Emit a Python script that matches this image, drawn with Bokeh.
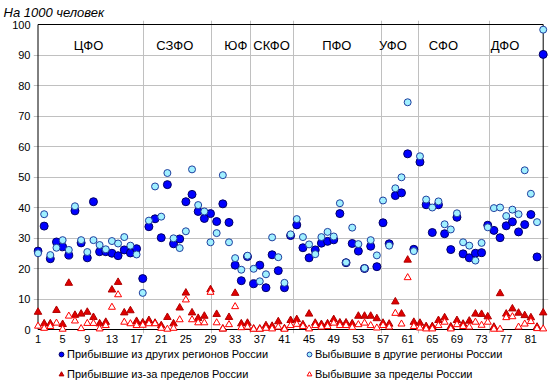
from bokeh.plotting import figure
from bokeh.layouts import column
from bokeh.models import Range1d, FixedTicker, Legend, LegendItem
from bokeh.core.properties import value
from bokeh.embed import file_html
from bokeh.resources import INLINE

# ---------------- data ----------------
regions = list(range(1, 84))

arr_other = [25.7, 33.9, 23.2, 28.7, 27.1, 24.4, 38.9, 28.4, 23.5, 41.9,
             25.5, 25.5, 25.0, 24.2, 26.1, 25.1, 26.5, 16.7, 33.7, 36.3,
             30.1, 47.5, 28.1, 29.7, 41.9, 44.3, 38.7, 36.4, 38.0, 35.4,
             41.2, 35.1, 21.1, 16.0, 23.9, 15.0, 21.1, 13.7, 24.5, 19.3,
             13.7, 30.8, 34.3, 26.8, 23.5, 26.1, 28.3, 28.9, 29.4, 38.0,
             21.9, 28.2, 25.7, 20.0, 27.3, 20.6, 35.0, 28.1, 43.9, 44.8,
             57.6, 26.3, 54.9, 40.9, 31.8, 40.9, 31.4, 26.2, 36.8, 24.8,
             23.5, 25.0, 25.2, 34.2, 32.5, 30.1, 34.0, 35.3, 32.0, 34.4,
             37.7, 23.8, 90.2]

dep_other = [25.0, 37.8, 24.4, 26.8, 29.3, 26.1, 40.4, 29.3, 25.4, 29.3,
             27.7, 26.3, 29.0, 28.2, 30.3, 27.5, 24.6, 12.0, 35.7, 46.9,
             37.0, 51.3, 29.9, 26.7, 32.2, 52.5, 40.8, 38.7, 28.6, 31.6,
             50.6, 28.6, 23.4, 19.6, 24.2, 19.9, 15.8, 18.1, 30.2, 23.7,
             15.3, 31.2, 36.2, 30.3, 27.9, 24.7, 30.3, 32.0, 30.5, 41.4,
             22.0, 33.4, 28.0, 20.1, 29.3, 24.3, 42.3, 27.5, 46.3, 49.9,
             74.5, 25.7, 56.8, 42.6, 40.0, 42.0, 34.5, 32.8, 38.1, 28.6,
             27.5, 22.6, 28.4, 33.5, 39.8, 40.0, 37.2, 39.3, 37.8, 52.2,
             44.5, 35.2, 98.3]

arr_abroad = [5.7, 1.9, 1.9, 6.3, 1.7, 15.2, 4.7, 5.1, 5.7, 4.0,
              1.9, 2.4, 13.0, 15.5, 5.5, 6.2, 2.7, 2.2, 3.0, 2.1,
              1.3, 4.0, 1.9, 7.1, 12.0, 5.5, 3.7, 4.4, 13.1, 5.0,
              0.2, 4.0, 11.9, 1.9, 2.1, 0.2, 0.2, 1.3, 1.1, 2.6,
              0.3, 3.0, 3.3, 1.6, 5.1, 2.1, 1.7, 1.9, 3.3, 2.2,
              2.2, 1.9, 4.4, 4.4, 4.4, 3.6, 2.1, 1.8, 9.1, 5.1,
              22.8, 2.4, 2.1, 1.0, 1.0, 3.0, 3.9, 0.9, 3.0, 1.8,
              2.8, 5.1, 5.0, 4.2, 0.8, 11.8, 5.1, 6.8, 5.4, 4.6,
              3.9, 0.8, 5.5]

dep_abroad = [1.1, 0.4, 1.0, 2.1, 0.1, 4.4, 2.8, 0.3, 2.0, 2.0,
              0.2, 1.3, 7.3, 11.4, 2.4, 1.9, 1.3, 1.4, 1.9, 1.9,
              0.4, 0.1, 0.4, 3.2, 9.7, 3.2, 2.2, 2.2, 12.2, 2.2,
              0.2, 1.6, 7.5, 0.6, 0.8, 0.1, 0.1, 0.4, 0.2, 0.8,
              0.1, 1.3, 1.7, 1.0, 0.2, 1.3, 0.8, 1.0, 2.1, 1.3,
              1.3, 0.7, 1.6, 2.1, 1.3, 0.5, 1.3, 0.8, 5.3, 1.8,
              17.0, 1.0, 0.5, 0.2, 0.2, 1.3, 2.4, 0.2, 1.6, 1.0,
              0.8, 2.4, 1.4, 2.4, 0.1, 0.1, 3.9, 4.2, 0.8, 1.8,
              2.6, 0.3, 0.2]

districts = ["ЦФО", "СЗФО", "ЮФ", "СКФО", "ПФО", "УФО", "СФО", "ДФО"]
district_label_x = [9.2, 23.2, 33.1, 38.9, 49.5, 58.6, 66.8, 76.8]
district_label_y = 93
district_bounds = [18.2, 29.2, 35.5, 42.5, 56.8, 62.7, 74.3]

x_ticks = list(range(1, 84, 4))
y_ticks = list(range(0, 101, 10))

series_names = ["Прибывшие из других регионов России",
                "Выбывшие в другие регионы России",
                "Прибывшие из-за пределов России",
                "Выбывшие за пределы России"]
title_text = "На 1000 человек"

series_values = [arr_other, dep_other, arr_abroad, dep_abroad]

# ---------------- styles ----------------
FONT = "Liberation Sans"
styles = [
    dict(marker="circle", size=8, fill_color="#0000ff", line_color="#000066", line_width=1),
    dict(marker="circle", size=7, fill_color="#a0f0ff", line_color="#1f3f9f", line_width=1),
    dict(marker="triangle", size=7.5, fill_color="#e00000", line_color="#b00000", line_width=1),
    dict(marker="triangle", size=7, fill_color="white", line_color="#ff0000", line_width=1),
]

# ---------------- main plot layout ----------------
W, H_MAIN, H_LEG = 560, 347, 40
FL, FR, FT, FB = 33, 548, 20, 333          # frame edges (px)
X1_PX, X83_PX = 37.5, 542.7                # where first / last region sit
Y100_PX, Y0_PX = 24.0, 329.0
sx = (X83_PX - X1_PX) / (regions[-1] - regions[0])
sy = (Y0_PX - Y100_PX) / (y_ticks[-1] - y_ticks[0])
x_start = regions[0] - (X1_PX - FL) / sx
x_end = regions[-1] + (FR - X83_PX) / sx
y_start = y_ticks[0] - (FB - Y0_PX) / sy
y_end = y_ticks[-1] + (Y100_PX - FT) / sy

p = figure(width=W, height=H_MAIN, output_backend="svg", toolbar_location=None,
           x_range=Range1d(x_start, x_end), y_range=Range1d(y_start, y_end),
           min_border_left=FL, min_border_right=W - FR,
           min_border_top=FT, min_border_bottom=H_MAIN - FB)
p.outline_line_color = None
p.background_fill_color = "white"
p.border_fill_color = "white"

# title
p.title.text = title_text
p.title.align = "left"
p.title.offset = -30
p.title.standoff = 2
p.title.text_font = FONT
p.title.text_font_size = "13px"
p.title.text_font_style = "italic"
p.title.text_color = "black"

# axes (their lines are drawn as the plot box below)
p.xaxis.ticker = FixedTicker(ticks=x_ticks)
p.yaxis.ticker = FixedTicker(ticks=y_ticks)
for ax in (p.xaxis[0], p.yaxis[0]):
    ax.axis_line_color = None
    ax.major_tick_line_color = None
    ax.minor_tick_line_color = None
    ax.major_tick_out = 0
    ax.major_tick_in = 0
    ax.major_label_text_font = FONT
    ax.major_label_text_font_size = "11px"
    ax.major_label_text_color = "black"
p.xaxis.major_label_standoff = 1
p.yaxis.major_label_standoff = 3

# grids
p.ygrid.ticker = FixedTicker(ticks=y_ticks[1:-1])
p.ygrid.bounds = (regions[0], regions[-1])
p.xgrid.ticker = FixedTicker(ticks=district_bounds)
p.xgrid.bounds = (y_ticks[0], y_ticks[-1])
for g in (p.xgrid[0], p.ygrid[0]):
    g.grid_line_color = "#c0c0c0"
    g.grid_line_width = 1

# plot box
xa, xb = regions[0], regions[-1]
ya, yb = y_ticks[0], y_ticks[-1]
p.segment(x0=[xa, xa, xa, xb], y0=[ya, yb, ya, ya],
          x1=[xb, xb, xa, xb], y1=[ya, yb, yb, yb],
          line_color="black", line_width=1)

# district labels
p.text(x=district_label_x, y=[district_label_y] * len(districts), text=districts,
       text_align="center", text_baseline="middle",
       text_font=value(FONT), text_font_size="13px", text_color="black")

# series
for ys, st in zip(series_values, styles):
    p.scatter(regions, ys, **st)

# ---------------- legend strip ----------------
# the same series are attached to this strip only to feed its legend;
# its x range lies left of all regions, so no point is visible here
q = figure(width=W, height=H_LEG, output_backend="svg", toolbar_location=None,
           x_axis_location=None, y_axis_location=None,
           x_range=Range1d(regions[0] - 3, regions[0] - 2),
           y_range=Range1d(y_ticks[0], y_ticks[-1]),
           min_border_left=0, min_border_right=0, min_border_top=0, min_border_bottom=0)
q.grid.visible = False
q.outline_line_color = None
q.background_fill_color = "white"
q.border_fill_color = "white"

leg_renderers = [q.scatter(regions, ys, **st) for ys, st in zip(series_values, styles)]

LEG_X = 22
common = dict(orientation="horizontal", margin=0, padding=0, spacing=6,
              glyph_width=12, glyph_height=14, label_height=14, label_width=230,
              label_standoff=0, label_text_font=FONT, label_text_font_size="11px",
              label_text_color="black", border_line_color=None,
              background_fill_alpha=0)
leg1 = Legend(items=[LegendItem(label=series_names[0], renderers=[leg_renderers[0]]),
                     LegendItem(label=series_names[1], renderers=[leg_renderers[1]])],
              location=(LEG_X, H_LEG - 0 - 14), **common)
leg2 = Legend(items=[LegendItem(label=series_names[2], renderers=[leg_renderers[2]]),
                     LegendItem(label=series_names[3], renderers=[leg_renderers[3]])],
              location=(LEG_X, H_LEG - 20 - 14), **common)
q.add_layout(leg1)
q.add_layout(leg2)

layout = column(p, q, spacing=0)
open("out.html", "w").write(file_html(layout, INLINE))
